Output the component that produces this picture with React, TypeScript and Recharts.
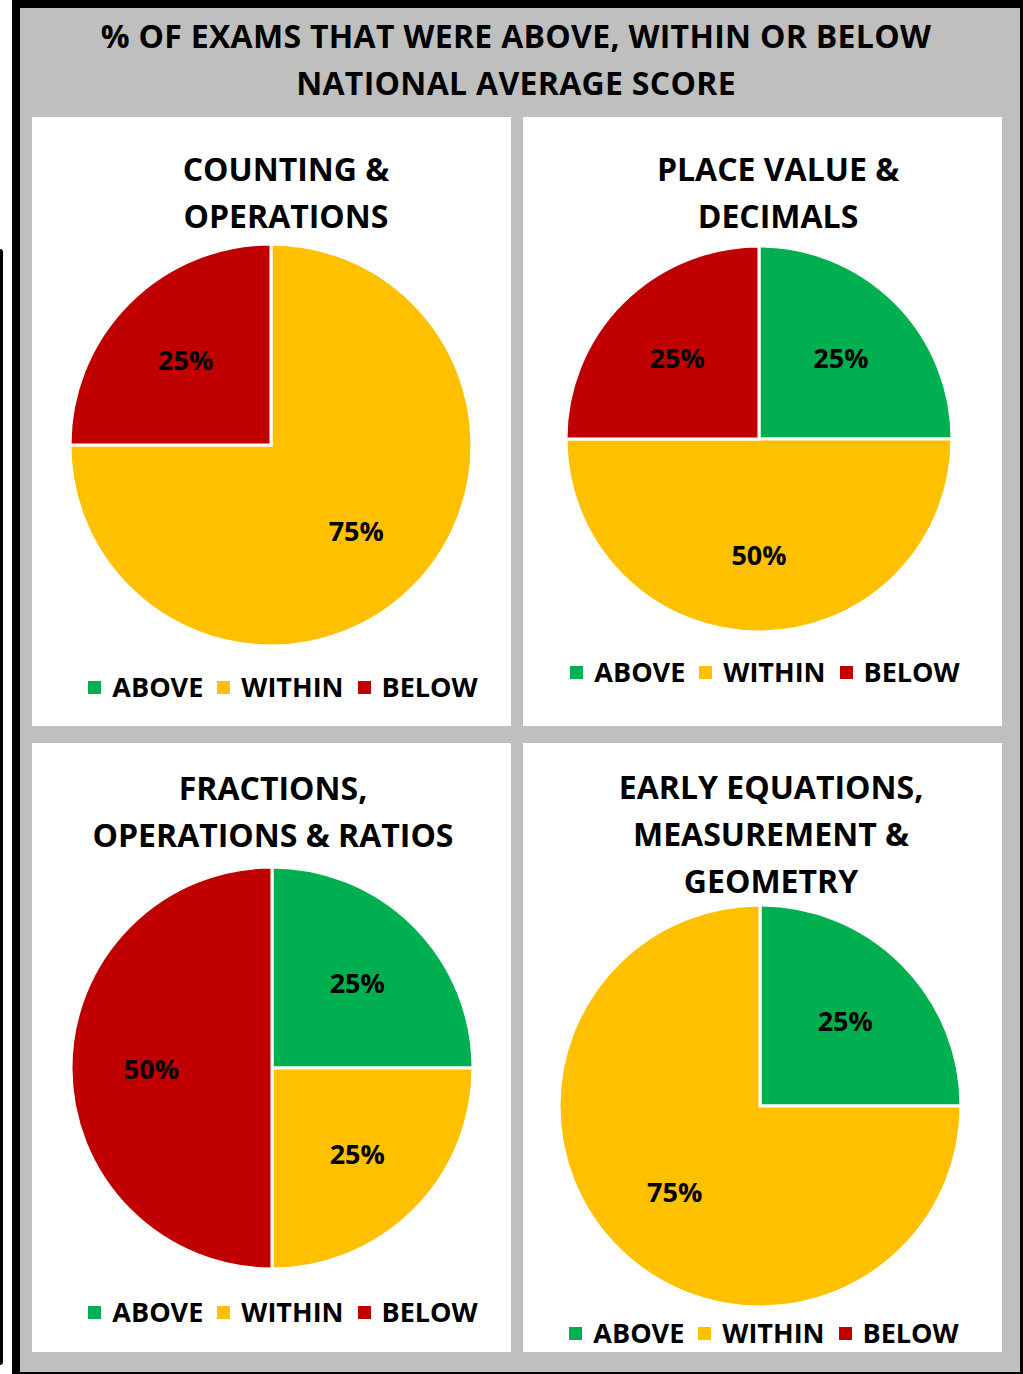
import { Legend, Pie, PieChart } from "recharts";

const CATEGORIES = ["ABOVE", "WITHIN", "BELOW"];
const COLORS = ["#00b050", "#ffc000", "#c00000"];

const TITLE_LINES = ["% OF EXAMS THAT WERE ABOVE, WITHIN OR BELOW", "NATIONAL AVERAGE SCORE"];

const COUNTING = [0, 75, 25];
const PLACE_VALUE = [25, 50, 25];
const FRACTIONS = [25, 25, 50];
const EARLY_EQUATIONS = [25, 75, 0];

const PANEL_TITLES = [
  ["COUNTING &", "OPERATIONS"],
  ["PLACE VALUE &", "DECIMALS"],
  ["FRACTIONS,", "OPERATIONS & RATIOS"],
  ["EARLY EQUATIONS,", "MEASUREMENT &", "GEOMETRY"]
];

const FONT = "'Open Sans', sans-serif";
const GRAY = "#bfbfbf";
const RADIAN = Math.PI / 180;

const PANEL_W = 479;
const PANEL_H = 609;

// layout only: where each panel sits and how its pie / title / legend is placed
const PANELS = [
  { values: COUNTING, left: 32, top: 117, cx: 239, cy: 328, r: 201, titleX: 254, titleY: 28, legendX: 251, legendY: 570 },
  { values: PLACE_VALUE, left: 523, top: 117, cx: 236, cy: 322, r: 193, titleX: 255, titleY: 28, legendX: 242, legendY: 555 },
  { values: FRACTIONS, left: 32, top: 743, cx: 240, cy: 325, r: 201, titleX: 241, titleY: 21, legendX: 251, legendY: 569 },
  { values: EARLY_EQUATIONS, left: 523, top: 743, cx: 237, cy: 363, r: 201, titleX: 248, titleY: 20, legendX: 241, legendY: 590 }
];

function toRows(values: number[]) {
  return CATEGORIES.map((name, i) => ({ name, value: values[i], fill: COLORS[i] }));
}

function renderLabel(props: any) {
  const { cx, cy, midAngle, outerRadius, value } = props;
  if (!value) return null;
  const r = outerRadius * 0.6;
  const x = cx + r * Math.cos(-midAngle * RADIAN);
  const y = cy + r * Math.sin(-midAngle * RADIAN);
  return (
    <text
      x={x}
      y={y}
      textAnchor="middle"
      dominantBaseline="central"
      fontFamily={FONT}
      fontWeight={700}
      fontSize={27}
      fill="#000"
    >
      {value}%
    </text>
  );
}

function LegendContent() {
  return (
    <div style={{ display: "flex", alignItems: "center", justifyContent: "center", fontFamily: FONT }}>
      {CATEGORIES.map((name, i) => (
        <div key={name} style={{ display: "flex", alignItems: "center", marginLeft: i ? 14 : 0 }}>
          <span style={{ width: 13, height: 13, background: COLORS[i], display: "inline-block", marginRight: 11 }} />
          <span style={{ fontSize: 27, fontWeight: 700, color: "#000", lineHeight: "34px" }}>{name}</span>
        </div>
      ))}
    </div>
  );
}

function Panel({ index }: { index: number }) {
  const p = PANELS[index];
  const rows = toRows(p.values);
  return (
    <div
      style={{
        position: "absolute",
        left: p.left,
        top: p.top,
        width: PANEL_W,
        height: PANEL_H,
        background: "#fff"
      }}
    >
      <div
        style={{
          position: "absolute",
          left: p.titleX - 240,
          top: p.titleY,
          width: 480,
          textAlign: "center",
          fontFamily: FONT,
          fontWeight: 700,
          fontSize: 32,
          lineHeight: "47px",
          color: "#000",
          zIndex: 2
        }}
      >
        {PANEL_TITLES[index].map((line) => (
          <div key={line}>{line}</div>
        ))}
      </div>
      <PieChart width={PANEL_W} height={PANEL_H} margin={{ top: 0, right: 0, bottom: 0, left: 0 }}>
        <Pie
          data={rows}
          dataKey="value"
          nameKey="name"
          cx={p.cx}
          cy={p.cy}
          outerRadius={p.r}
          startAngle={90}
          endAngle={-270}
          stroke="#fff"
          strokeWidth={3}
          labelLine={false}
          label={renderLabel}
          isAnimationActive={false}
        />
        <Legend
          content={<LegendContent />}
          wrapperStyle={{ position: "absolute", top: p.legendY - 17, left: p.legendX - 240, width: 480, height: 34 }}
        />
      </PieChart>
    </div>
  );
}

export default function App() {
  return (
    <div style={{ position: "absolute", left: 0, top: 0, width: 1023, height: 1374, background: "#fff" }}>
      <div
        style={{
          position: "absolute",
          left: 0,
          top: 249,
          width: 3,
          height: 1116,
          background: "#000",
          borderRadius: "0 3px 3px 0"
        }}
      />
      <div
        style={{
          position: "absolute",
          left: 12,
          top: 0,
          width: 1000,
          height: 1364,
          background: GRAY,
          borderStyle: "solid",
          borderColor: "#000",
          borderWidth: "8px 10px 2px 8px"
        }}
      />
      <div
        style={{
          position: "absolute",
          left: 20,
          top: 12,
          width: 992,
          textAlign: "center",
          fontFamily: FONT,
          fontWeight: 700,
          fontSize: 32,
          letterSpacing: 0.3,
          lineHeight: "47px",
          color: "#000"
        }}
      >
        {TITLE_LINES.map((line) => (
          <div key={line}>{line}</div>
        ))}
      </div>
      {PANELS.map((_, i) => (
        <Panel key={i} index={i} />
      ))}
    </div>
  );
}
